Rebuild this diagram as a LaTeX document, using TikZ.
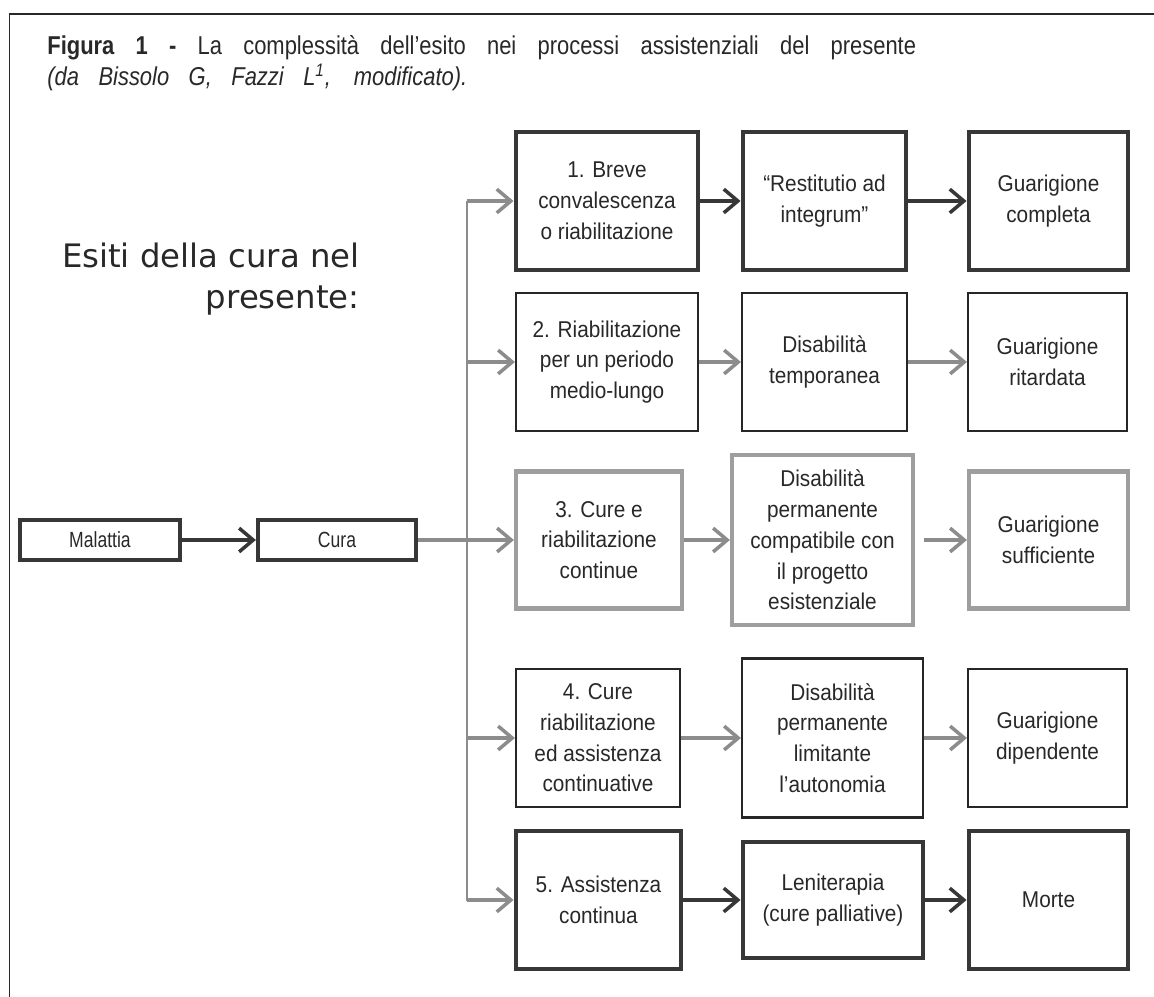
\documentclass[tikz,border=0pt]{standalone}
\usepackage{fontspec}
\setmainfont{Liberation Sans}
\newfontfamily\esitifont{DejaVu Sans}
\newfontfamily\boxfont[FakeStretch=0.91]{Liberation Sans}
\newfontfamily\capfont[FakeStretch=0.85]{Liberation Sans}
\newfontfamily\startfont[FakeStretch=0.8]{Liberation Sans}
\usetikzlibrary{arrows.meta,positioning,calc}
\definecolor{dkgray}{RGB}{55,55,55}
\definecolor{ltgray}{RGB}{158,158,158}
\definecolor{argray}{RGB}{140,140,140}
\definecolor{txtgray}{RGB}{40,40,40}

\begin{document}
\begin{tikzpicture}[x=0.02cm,y=-0.02cm,
  sz/.style 2 args={minimum width=#1*0.02cm,minimum height=#2*0.02cm},
  esito/.style={draw=dkgray,line width=2.8pt,align=center,inner sep=0pt,
                font=\boxfont\fontsize{13}{17.5}\selectfont,text=txtgray},
  esitothin/.style={esito,draw=black!85,line width=1.2pt},
  esitogray/.style={esito,draw=ltgray,line width=2.4pt},
  startbox/.style={esito,line width=2.4pt,font=\startfont\fontsize{12.5}{14}\selectfont},
  caption/.style={anchor=base west,inner sep=0pt,text=txtgray,font=\capfont\fontsize{14.7}{18}\selectfont},
  arr/.style={-{Straight Barb[length=8pt,width=13.5pt]},line width=2pt,dkgray},
  garr/.style={arr,argray},
  gline/.style={line width=1.7pt,argray,line cap=rect}
]
\useasboundingbox (0,0) rectangle (1154,997);
\draw[line width=0.9pt,txtgray] (9.5,997) |- (1154,14);

% titolo
\node[caption] (head1) at (47,55)
  {\hbox to 17.38cm{\textbf{Figura 1 -} La complessità dell’esito nei processi assistenziali del presente}};
\node[caption] (head2) at (47,86)
  {\hbox to 8.4cm{\itshape (da Bissolo G, Fazzi L\textsuperscript{1}, modificato).}};

\node[anchor=base east,inner sep=0pt,text=txtgray,font=\esitifont\fontsize{18.4}{22}\selectfont] (esiti1) at (360,268) {Esiti della cura nel};
\node[anchor=base east,inner sep=0pt,text=txtgray,font=\esitifont\fontsize{18.4}{22}\selectfont] (esiti2) at (360,308) {presente:};

% partenza
\node[startbox,sz={160}{40}] (mal) at (100,540) {Malattia};
\node[startbox,sz={158}{40}] (cura) at (337,540) {Cura};

% 1
\node[esito,sz={182}{138}] (a1) at (607,201) {1. Breve\\convalescenza\\o riabilitazione};
\node[esito,sz={163}{138}] (b1) at (824.5,201) {“Restitutio ad\\integrum”};
\node[esito,sz={159}{138}] (c1) at (1048.5,201) {Guarigione\\completa};
% 2
\node[esitothin,sz={182}{138}] (a2) at (607,362) {2. Riabilitazione\\per un periodo\\medio-lungo};
\node[esitothin,sz={165}{138}] (b2) at (824.5,362) {Disabilità\\temporanea};
\node[esitothin,sz={159}{138}] (c2) at (1047.5,362) {Guarigione\\ritardata};
% 3
\node[esitogray,sz={166}{137}] (a3) at (599,540) {3. Cure e\\riabilitazione\\continue};
\node[esitogray,sz={181}{170}] (b3) at (822.5,540) {Disabilità\\permanente\\compatibile con\\il progetto\\esistenziale};
\node[esitogray,sz={159}{137}] (c3) at (1048.5,540) {Guarigione\\sufficiente};
% 4
\node[esitothin,sz={164}{138}] (a4) at (598,738) {4. Cure\\riabilitazione\\ed assistenza\\continuative};
\node[esitothin,sz={181}{159}] (b4) at (832.5,738) {Disabilità\\permanente\\limitante\\l’autonomia};
\node[esitothin,sz={159}{138}] (c4) at (1047.5,738) {Guarigione\\dipendente};
% 5
\node[esito,sz={165}{138}] (a5) at (598.5,900) {5. Assistenza\\continua};
\node[esito,sz={180}{116}] (b5) at (833,900) {Leniterapia\\(cure palliative)};
\node[esito,sz={159}{138}] (c5) at (1048.5,900) {Morte};

\coordinate (ttop) at (467,202);
\coordinate (tbot) at (467,900);

\draw[arr] (mal) -- (cura);
\draw[garr] (cura) -- (a3);
\draw[gline] (ttop) -- (tbot);
\foreach \r in {1,2,4,5}
  \draw[garr] (ttop |- a\r.west) -- (a\r.west);

\draw[arr] (a1) -- (b1);
\draw[arr] (b1) -- (c1);
\draw[garr] (a2) -- (b2);
\draw[garr] (b2) -- (c2);
\draw[garr] (a3) -- (b3);
\draw[garr,shorten <=5pt] (b3) -- (c3);
\draw[garr] (a4) -- (b4);
\draw[garr] (b4) -- (c4);
\draw[arr] (a5) -- (b5);
\draw[arr] (b5) -- (c5);
\end{tikzpicture}
\end{document}
